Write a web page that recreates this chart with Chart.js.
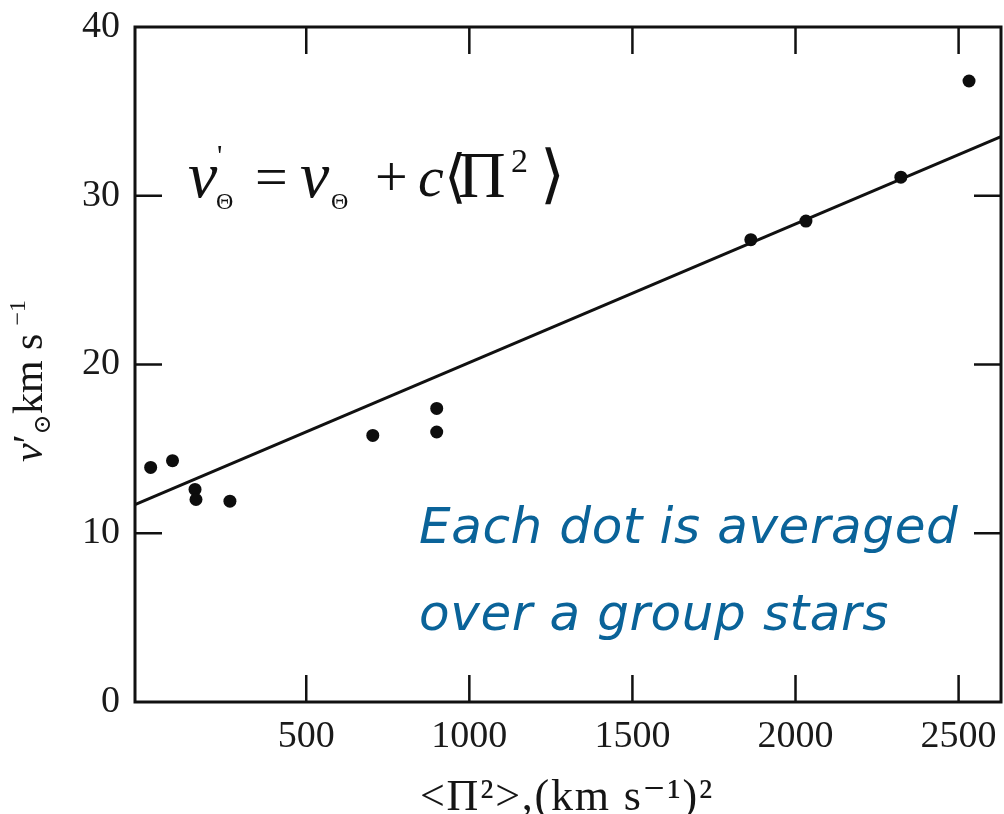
<!DOCTYPE html>
<html>
<head>
<meta charset="utf-8">
<script src="https://cdn.jsdelivr.net/npm/chart.js@4.4.1/dist/chart.umd.min.js"></script>
<style>
  html, body { margin: 0; padding: 0; background: #fff; }
  #wrap { position: relative; width: 1004px; height: 814px; overflow: hidden; }
  #plot { position: absolute; left: 0; top: 0; }
  .eq {
    position: absolute; left: 0; top: 0; width: 1004px; height: 814px;
    font-family: "Liberation Serif", "DejaVu Serif", serif; color: #111;
  }
  .eq span, .eq i, .eq sup, .eq sub { position: absolute; line-height: 1; white-space: nowrap; }
  .eq i { font-style: italic; }
  .note {
    position: absolute; left: 419px;
    font-family: "DejaVu Sans", sans-serif; font-style: oblique;
    font-size: 50px; letter-spacing: 0.6px; line-height: 1; white-space: nowrap; color: #0a6399;
  }
  .ytitle {
    position: absolute; left: 28px; top: 381px;
    transform: translate(-50%, -50%) rotate(-90deg);
    font-family: "Liberation Serif", "DejaVu Serif", serif;
    font-size: 42px; line-height: 1; white-space: nowrap; color: #151515;
  }
  .ytitle i { font-style: italic; }
  .ytitle sub { font-size: 24px; vertical-align: baseline; position: relative; top: 8px; }
  .ytitle sup { font-size: 24px; vertical-align: baseline; position: relative; top: -17px; margin-left: 8px; }
  .xtitle {
    position: absolute; left: 567px; top: 774px; transform: translateX(-50%);
    font-family: "Liberation Serif", "DejaVu Serif", serif;
    font-size: 44px; letter-spacing: 1.8px; line-height: 1; white-space: nowrap; color: #151515;
  }
</style>
</head>
<body>
<div id="wrap">
  <canvas id="plot" width="1004" height="814"></canvas>
  <div class="eq">
    <i style="left:188px;top:142px;font-size:66px">v</i>
    <span style="left:217px;top:140px;font-size:30px">'</span>
    <sub style="left:216px;top:189px;font-size:24px">Θ</sub>
    <span style="left:255px;top:148px;font-size:58px">=</span>
    <i style="left:300px;top:142px;font-size:66px">v</i>
    <sub style="left:331px;top:189px;font-size:24px">Θ</sub>
    <span style="left:375px;top:148px;font-size:58px">+</span>
    <i style="left:418px;top:148px;font-size:58px">c</i>
    <span style="left:444px;top:148px;font-size:58px">⟨</span>
    <span style="left:458px;top:142px;font-size:66px">Π</span>
    <sup style="left:511px;top:144px;font-size:34px">2</sup>
    <span style="left:540px;top:143px;font-size:64px">⟩</span>
  </div>
  <div class="note" style="top:501px">Each dot is averaged</div>
  <div class="note" style="top:588px">over a group stars</div>
  <div class="ytitle"><i>v</i>′<sub>⊙</sub>km s<sup>−1</sup></div>
  <div class="xtitle">&lt;Π²&gt;,(km s⁻¹)²</div>
</div>
<script>
// Mean squared peculiar velocity of each star group, (km/s)^2
const groupMeanSq = [23, 90, 159, 162, 266, 704, 900, 900, 1863, 2032, 2323, 2532];
// Corrected rotation velocity of each group, km/s
const groupVel = [13.9, 14.3, 12.6, 12.0, 11.9, 15.8, 17.4, 16.0, 27.4, 28.5, 31.1, 36.8];
// End points of the fitted relation v' = v + c<Π²>
const fitX = [-25, 2630];
const fitY = [11.7, 33.5];
// Axis ticks
const xTickValues = [500, 1000, 1500, 2000, 2500];
const yTickValues = [0, 10, 20, 30, 40];
const xRange = [-25, 2630];
const yRange = [0, 40];

const groupPoints = groupMeanSq.map((x, i) => ({ x, y: groupVel[i] }));
const fitPoints = fitX.map((x, i) => ({ x, y: fitY[i] }));

const tickFont = { family: '"Liberation Serif", "DejaVu Serif", serif', size: 38 };

// Frame around the plot with inward ticks on all four sides
const framePlugin = {
  id: 'frame',
  afterDraw(chart) {
    const { ctx, chartArea: a, scales } = chart;
    const len = 27;
    ctx.save();
    ctx.strokeStyle = '#111';
    ctx.lineWidth = 2.5;
    ctx.beginPath();
    xTickValues.forEach(v => {
      const px = scales.x.getPixelForValue(v);
      ctx.moveTo(px, a.bottom); ctx.lineTo(px, a.bottom - len);
      ctx.moveTo(px, a.top); ctx.lineTo(px, a.top + len);
    });
    yTickValues.forEach(v => {
      if (v === yRange[0] || v === yRange[1]) return;
      const py = scales.y.getPixelForValue(v);
      ctx.moveTo(a.left, py); ctx.lineTo(a.left + len, py);
      ctx.moveTo(a.right, py); ctx.lineTo(a.right - len, py);
    });
    ctx.stroke();
    ctx.lineWidth = 3;
    ctx.strokeRect(a.left, a.top, a.right - a.left, a.bottom - a.top);
    ctx.restore();
  }
};

new Chart(document.getElementById('plot'), {
  type: 'scatter',
  data: {
    datasets: [
      {
        data: groupPoints,
        backgroundColor: '#0d0d0d',
        borderColor: '#0d0d0d',
        pointRadius: 6.5,
        pointBorderWidth: 0
      },
      {
        data: fitPoints,
        showLine: true,
        borderColor: '#111',
        borderWidth: 3,
        pointRadius: 0
      }
    ]
  },
  options: {
    responsive: false,
    animation: false,
    devicePixelRatio: 1,
    layout: { autoPadding: false, padding: { top: 27, right: 3, left: 0, bottom: 0 } },
    plugins: { legend: { display: false }, tooltip: { enabled: false } },
    scales: {
      x: {
        type: 'linear',
        min: xRange[0],
        max: xRange[1],
        grid: { display: false, drawTicks: false },
        border: { display: false },
        afterBuildTicks(scale) { scale.ticks = xTickValues.map(value => ({ value })); },
        afterFit(scale) {
          scale.height = 112;
          scale.paddingLeft = 0;
          scale.paddingRight = 0;
        },
        ticks: {
          font: tickFont, color: '#1a1a1a', padding: 12, maxRotation: 0, autoSkip: false,
          callback: v => String(v)
        }
      },
      y: {
        type: 'linear',
        min: yRange[0],
        max: yRange[1],
        grid: { display: false, drawTicks: false },
        border: { display: false },
        afterBuildTicks(scale) { scale.ticks = yTickValues.map(value => ({ value })); },
        afterFit(scale) {
          scale.width = 135;
          scale.paddingTop = 0;
          scale.paddingBottom = 0;
        },
        ticks: { font: tickFont, color: '#1a1a1a', padding: 15, autoSkip: false, callback: v => String(v) }
      }
    }
  },
  plugins: [framePlugin]
});
</script>
</body>
</html>
